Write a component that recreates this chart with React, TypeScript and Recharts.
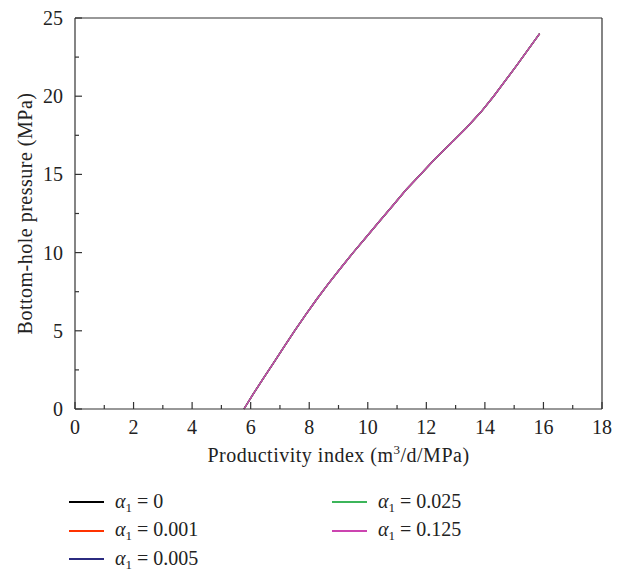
import React from 'react';
import { LineChart, Line, XAxis, YAxis, Label } from 'recharts';

// bottom-hole pressure (MPa), shared by every curve
const pressure = [0, 1, 2, 3, 4, 5, 6, 7, 8, 9, 10, 11, 12, 13, 14, 15, 16, 17, 18, 19, 20, 22, 24];

// productivity index (m3/d/MPa) for each alpha1 — the curves overlap
const pi_a0 = [5.77, 6.1, 6.45, 6.8, 7.15, 7.5, 7.87, 8.25, 8.65, 9.07, 9.5, 9.95, 10.4, 10.85, 11.3, 11.8, 12.3, 12.85, 13.38, 13.87, 14.3, 15.1, 15.87];
const pi_a0001 = [5.77, 6.1, 6.45, 6.8, 7.15, 7.5, 7.87, 8.25, 8.65, 9.07, 9.5, 9.95, 10.4, 10.85, 11.3, 11.8, 12.3, 12.85, 13.38, 13.87, 14.3, 15.1, 15.87];
const pi_a0005 = [5.77, 6.1, 6.45, 6.8, 7.15, 7.5, 7.87, 8.25, 8.65, 9.07, 9.5, 9.95, 10.4, 10.85, 11.3, 11.8, 12.3, 12.85, 13.38, 13.87, 14.3, 15.1, 15.87];
const pi_a0025 = [5.77, 6.1, 6.45, 6.8, 7.15, 7.5, 7.87, 8.25, 8.65, 9.07, 9.5, 9.95, 10.4, 10.85, 11.3, 11.8, 12.3, 12.85, 13.38, 13.87, 14.3, 15.1, 15.87];
const pi_a0125 = [5.77, 6.1, 6.45, 6.8, 7.15, 7.5, 7.87, 8.25, 8.65, 9.07, 9.5, 9.95, 10.4, 10.85, 11.3, 11.8, 12.3, 12.85, 13.38, 13.87, 14.3, 15.1, 15.87];

const alphaLabels = ['0', '0.001', '0.005', '0.025', '0.125'];
const seriesColors = ['#000000', '#ff3300', '#2b2b80', '#3cb55a', '#cc44b0'];
const seriesValues = [pi_a0, pi_a0001, pi_a0005, pi_a0025, pi_a0125];

const xTicks = [0, 1, 2, 3, 4, 5, 6, 7, 8, 9, 10, 11, 12, 13, 14, 15, 16, 17, 18];
const yTicks = [0, 2.5, 5, 7.5, 10, 12.5, 15, 17.5, 20, 22.5, 25];

const FONT = '"Liberation Serif", "Times New Roman", serif';
const AXIS = '#333';
const TS = 5; // tickSize
const TM = 3; // tickMargin
const OFF = TS + TM;

const series = seriesValues.map((vals, i) => ({
  name: alphaLabels[i],
  color: seriesColors[i],
  data: pressure.map((p, j) => ({ x: vals[j], y: p })),
}));

const BottomTick = (props: any) => {
  const { x, y, payload } = props;
  const ay = y - OFF;
  const major = payload.value % 2 === 0;
  return (
    <g>
      <line x1={x} x2={x} y1={ay} y2={ay - (major ? 7 : 4)} stroke={AXIS} strokeWidth={1.2} />
      {major && (
        <text x={x} y={ay + 25} textAnchor="middle" fontFamily={FONT} fontSize={20} fill="#222">
          {payload.value}
        </text>
      )}
    </g>
  );
};

const TopTick = (props: any) => {
  const { x, y, payload } = props;
  const ay = y + OFF;
  const major = payload.value % 2 === 0;
  return <line x1={x} x2={x} y1={ay} y2={ay + (major ? 6 : 4)} stroke={AXIS} strokeWidth={1.2} />;
};

const LeftTick = (props: any) => {
  const { x, y, payload } = props;
  const ax = x + OFF;
  const major = payload.value % 5 === 0;
  return (
    <g>
      <line x1={ax} x2={ax + (major ? 7 : 4)} y1={y} y2={y} stroke={AXIS} strokeWidth={1.2} />
      {major && (
        <text x={ax - 12} y={y + 7} textAnchor="end" fontFamily={FONT} fontSize={20} fill="#222">
          {payload.value}
        </text>
      )}
    </g>
  );
};

const RightTick = (props: any) => {
  const { x, y, payload } = props;
  const ax = x - OFF;
  const major = payload.value % 5 === 0;
  return <line x1={ax} x2={ax - (major ? 6 : 4)} y1={y} y2={y} stroke={AXIS} strokeWidth={1.2} />;
};

const XTitle = (props: any) => {
  const vb = props.viewBox;
  return (
    <text x={vb.x + vb.width / 2} y={vb.y + 53} textAnchor="middle" fontFamily={FONT} fontSize={20} letterSpacing={0.5} fill="#222">
      <tspan>Productivity index (m</tspan>
      <tspan dy={-8} fontSize={13}>3</tspan>
      <tspan dy={8}>/d/MPa)</tspan>
    </text>
  );
};

const YTitle = (props: any) => {
  const vb = props.viewBox;
  const cx = 25;
  const cy = vb.y + vb.height / 2;
  return (
    <text x={cx} y={cy} transform={`rotate(-90 ${cx} ${cy})`} textAnchor="middle" dominantBaseline="central" fontFamily={FONT} fontSize={20} letterSpacing={0.5} fill="#222">
      Bottom-hole pressure (MPa)
    </text>
  );
};

const LegendBox = () => {
  const cols = [series.slice(0, 3), series.slice(3)];
  const lefts = [69, 332];
  return (
    <>
      {cols.map((col, c) =>
        col.map((s, r) => (
          <div
            key={s.name}
            style={{
              position: 'absolute',
              left: lefts[c],
              top: 490 + r * 28.5,
              height: 24,
              display: 'flex',
              alignItems: 'center',
              fontFamily: FONT,
              fontSize: 20,
              lineHeight: '24px',
              color: '#222',
              whiteSpace: 'nowrap',
            }}
          >
            <span style={{ display: 'inline-block', width: 35, height: 2, background: s.color, marginRight: 11 }} />
            <span>
              <i>α</i>
              <span style={{ fontSize: 13, position: 'relative', top: 4 }}>1</span> = {s.name}
            </span>
          </div>
        ))
      )}
    </>
  );
};

export default function App() {
  return (
    <div style={{ position: 'absolute', left: 0, top: 0, width: 624, height: 571, background: '#fff' }}>
      <LineChart width={624} height={571} margin={{ top: 17, right: 21, left: 15, bottom: 0 }}>
        <XAxis
          xAxisId="b"
          dataKey="x"
          type="number"
          domain={[0, 18]}
          ticks={xTicks}
          interval={0}
          height={162}
          tickSize={TS}
          tickMargin={TM}
          tickLine={false}
          tick={<BottomTick />}
          axisLine={{ stroke: AXIS, strokeWidth: 1.2 }}
          allowDataOverflow
        >
          <Label content={<XTitle />} />
        </XAxis>
        <XAxis
          xAxisId="t"
          orientation="top"
          dataKey="x"
          type="number"
          domain={[0, 18]}
          ticks={xTicks}
          interval={0}
          height={1}
          tickSize={TS}
          tickMargin={TM}
          tickLine={false}
          tick={<TopTick />}
          axisLine={{ stroke: AXIS, strokeWidth: 1.2 }}
        />
        <YAxis
          yAxisId="l"
          dataKey="y"
          type="number"
          domain={[0, 25]}
          ticks={yTicks}
          interval={0}
          width={60}
          tickSize={TS}
          tickMargin={TM}
          tickLine={false}
          tick={<LeftTick />}
          axisLine={{ stroke: AXIS, strokeWidth: 1.2 }}
        >
          <Label content={<YTitle />} />
        </YAxis>
        <YAxis
          yAxisId="r"
          orientation="right"
          dataKey="y"
          type="number"
          domain={[0, 25]}
          ticks={yTicks}
          interval={0}
          width={1}
          tickSize={TS}
          tickMargin={TM}
          tickLine={false}
          tick={<RightTick />}
          axisLine={{ stroke: AXIS, strokeWidth: 1.2 }}
        />
        {series.map((s) => (
          <Line
            key={s.name}
            xAxisId="b"
            yAxisId="l"
            data={s.data}
            dataKey="y"
            type="linear"
            stroke={s.color}
            strokeWidth={1.4}
            dot={false}
            activeDot={false}
            isAnimationActive={false}
          />
        ))}
      </LineChart>
      <LegendBox />
    </div>
  );
}
